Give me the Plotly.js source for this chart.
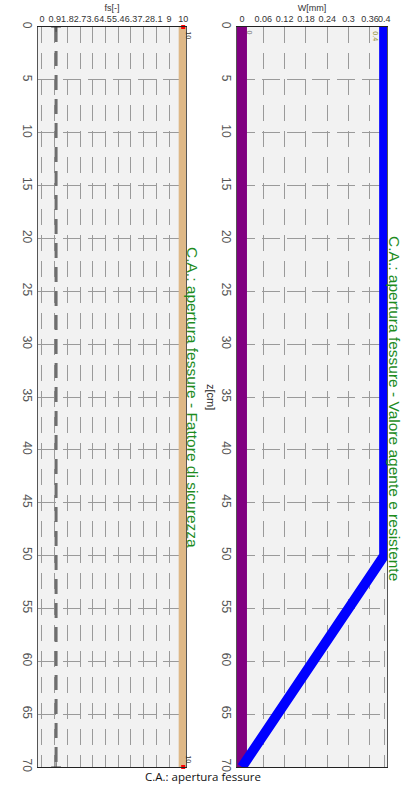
<!DOCTYPE html>
<html>
<head>
<meta charset="utf-8">
<script src="https://cdn.plot.ly/plotly-3.0.1.min.js"></script>
<style>html,body{margin:0;padding:0;background:#fff;}#chart{width:406px;height:791px;}</style>
</head>
<body>
<div id="chart"></div>
<script>
// ---- data ----
const zDepth = [0, 70];
const fsValues = [10, 10];
const fsLimit = [1, 1];
const zW = [0, 50, 70];
const wResistente = [0.4, 0.4, 0];
const wAgente = [0, 0];
const fsTicks = [0, 0.9, 1.8, 2.7, 3.6, 4.5, 5.4, 6.3, 7.2, 8.1, 9, 10];
const fsTickText = ['0', '0.9', '1.8', '2.7', '3.6', '4.5', '5.4', '6.3', '7.2', '8.1', '9', '10'];
const wTicks = [0, 0.06, 0.12, 0.18, 0.24, 0.3, 0.36, 0.4];
const wTickText = ['0', '0.06', '0.12', '0.18', '0.24', '0.3', '0.36', '0.4'];
const zTicks = [0, 5, 10, 15, 20, 25, 30, 35, 40, 45, 50, 55, 60, 65, 70];
const titleLeft = 'C.A.: apertura fessure - Fattore di sicurezza';
const titleRight = 'C.A.: apertura fessure - Valore agente e resistente';
const titleMain = 'C.A.: apertura fessure';

const W = 406;
const px = v => v / W;

const traces = [
  {x: fsLimit, y: zDepth, xaxis: 'x', yaxis: 'y', mode: 'lines+markers',
   line: {color: '#6e6e6e', width: 3, dash: '15px,9px'},
   marker: {symbol: 'cross-thin', size: 7, line: {color: '#444', width: 1}}, hoverinfo: 'skip'},
  {x: fsValues, y: zDepth, xaxis: 'x', yaxis: 'y', mode: 'lines+markers',
   line: {color: 'rgb(222,184,135)', width: 9},
   marker: {color: 'red', size: 4, symbol: 'square'}, cliponaxis: false},
  {x: wAgente, y: zDepth, xaxis: 'x2', yaxis: 'y2', mode: 'lines',
   line: {color: 'rgb(128,0,128)', width: 10}},
  {x: wResistente, y: zW, xaxis: 'x2', yaxis: 'y2', mode: 'lines',
   line: {color: 'rgb(0,0,255)', width: 10}}
];

const gridX = {showgrid: true, gridcolor: '#9a9a9a', gridwidth: 1, griddash: '16px,10px'};
const gridY = {showgrid: true, gridcolor: '#9a9a9a', gridwidth: 1, griddash: '18px,7px'};

const xCommon = Object.assign({
  side: 'top', ticks: '', showline: true, linecolor: '#222', linewidth: 1, mirror: true,
  zeroline: false, tickfont: {family: 'Liberation Sans, Arial', size: 9, color: '#333'},
  tickangle: 0
}, gridX);
const yCommon = Object.assign({
  range: [70, 0], tickvals: zTicks, tickangle: 90, ticks: '',
  showline: true, linecolor: '#555', linewidth: 1, mirror: true, zeroline: false,
  tickfont: {family: 'Liberation Sans, Arial', size: 12, color: '#555'}
}, gridY);

const layout = {
  width: 406, height: 791,
  margin: {l: 0, r: 0, t: 27, b: 24},
  paper_bgcolor: '#ffffff', plot_bgcolor: '#f2f2f2',
  showlegend: false,
  xaxis: Object.assign({}, xCommon, {
    domain: [px(38), px(186)], range: [-0.28, 10.2], anchor: 'y',
    tickvals: fsTicks, ticktext: fsTickText,
    title: {text: 'fs[-]', font: {family: 'Liberation Sans, Arial', size: 9, color: '#333'}, standoff: 1}
  }),
  yaxis: Object.assign({}, yCommon, {domain: [0, 1], anchor: 'x'}),
  xaxis2: Object.assign({}, xCommon, {
    domain: [px(237), px(387)], range: [-0.014, 0.408], anchor: 'y2',
    tickvals: wTicks, ticktext: wTickText,
    title: {text: 'W[mm]', font: {family: 'Liberation Sans, Arial', size: 9, color: '#333'}, standoff: 1}
  }),
  yaxis2: Object.assign({}, yCommon, {domain: [0, 1], anchor: 'x2'}),
  annotations: [
    {text: titleLeft, textangle: 90, xref: 'paper', yref: 'paper', x: px(193), y: 0.5,
     xanchor: 'center', yanchor: 'middle', showarrow: false,
     font: {family: 'Liberation Sans, Arial', size: 15.5, color: 'rgb(30,140,30)'}},
    {text: titleRight, textangle: 90, xref: 'paper', yref: 'paper', x: px(395), y: 0.485,
     xanchor: 'center', yanchor: 'middle', showarrow: false,
     font: {family: 'Liberation Sans, Arial', size: 15.5, color: 'rgb(30,140,30)'}},
    {text: 'z[cm]', textangle: 90, xref: 'paper', yref: 'paper', x: px(211), y: 0.5,
     xanchor: 'center', yanchor: 'middle', showarrow: false,
     font: {family: 'Liberation Sans, Arial', size: 11, color: '#222'}},
    {text: titleMain, xref: 'paper', yref: 'paper', x: 0.5, y: -0.0135,
     xanchor: 'center', yanchor: 'middle', showarrow: false,
     font: {family: 'Open Sans, Noto Sans', size: 11.5, color: '#111'}},
    {text: String(fsValues[0]), textangle: 90, xref: 'x', yref: 'y', x: fsValues[0], y: zDepth[0],
     xanchor: 'left', yanchor: 'top', xshift: 0, yshift: -2, showarrow: false,
     font: {family: 'Liberation Sans, Arial', size: 7, color: '#333'}},
    {text: String(fsValues[1]), textangle: 90, xref: 'x', yref: 'y', x: fsValues[1], y: zDepth[1],
     xanchor: 'left', yanchor: 'bottom', xshift: 0, yshift: 2, showarrow: false,
     font: {family: 'Liberation Sans, Arial', size: 7, color: '#333'}},
    {text: String(wResistente[0]), textangle: 90, xref: 'x2', yref: 'y2', x: wResistente[0], y: zW[0],
     xanchor: 'right', yanchor: 'top', xshift: -3, yshift: -2, showarrow: false,
     font: {family: 'Liberation Sans, Arial', size: 7, color: '#8a8a30'}},
    {text: String(wAgente[0]), textangle: 90, xref: 'x2', yref: 'y2', x: wAgente[0], y: zDepth[0],
     xanchor: 'left', yanchor: 'top', xshift: 3, yshift: -2, showarrow: false,
     font: {family: 'Liberation Sans, Arial', size: 7, color: '#777'}}
  ]
};

Plotly.newPlot('chart', traces, layout, {displayModeBar: false, staticPlot: true});
</script>
</body>
</html>
